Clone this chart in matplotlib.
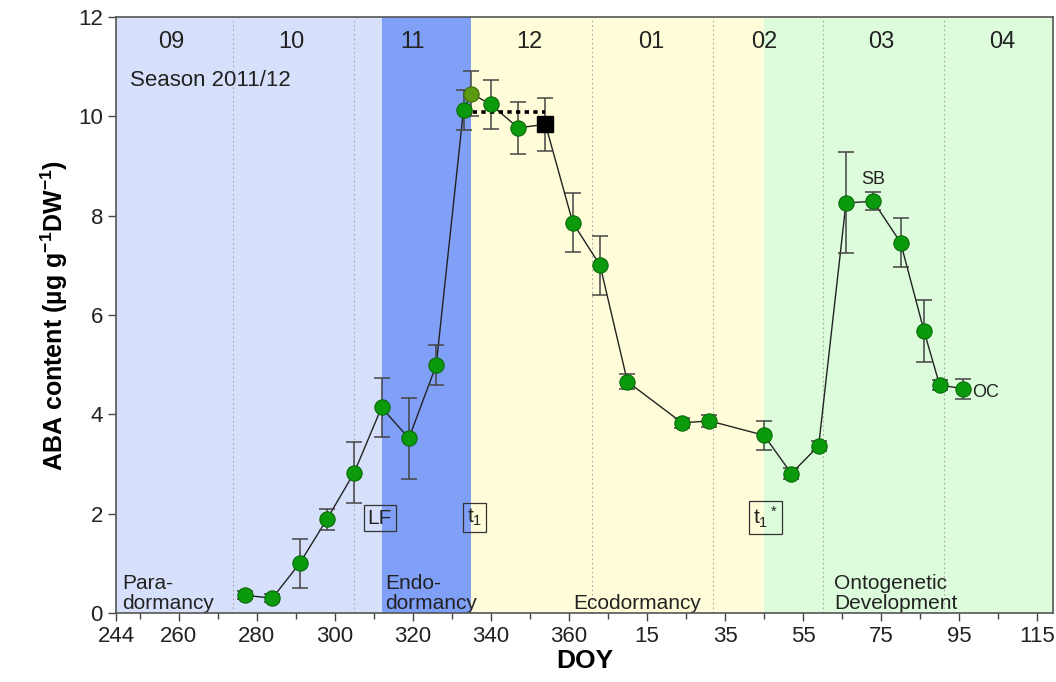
import matplotlib
matplotlib.use("Agg")
import matplotlib.pyplot as plt
from matplotlib.ticker import FixedLocator, MultipleLocator

plt.rcParams['font.family'] = ['Liberation Sans', 'DejaVu Sans']
plt.rcParams['mathtext.default'] = 'regular'

# ABA content of buds, season 2011/12 (DOY continues past 365 into the next year)
doy = [277, 284, 291, 298, 305, 312, 319, 326, 333, 335, 340, 347, 354,
       361, 368, 375, 389, 396, 410, 417, 424, 431, 438, 445, 451, 455, 461]
aba = [0.36, 0.30, 1.00, 1.89, 2.83, 4.14, 3.52, 4.99, 10.13, 10.46, 10.24, 9.77, 9.84,
       7.86, 7.00, 4.66, 3.83, 3.87, 3.58, 2.81, 3.37, 8.26, 8.29, 7.46, 5.68, 4.59, 4.52]
sd = [0.08, 0.08, 0.50, 0.21, 0.62, 0.60, 0.82, 0.40, 0.40, 0.45, 0.50, 0.52, 0.54,
      0.60, 0.60, 0.15, 0.10, 0.12, 0.29, 0.12, 0.10, 1.02, 0.18, 0.50, 0.62, 0.10, 0.20]
square_idx = 12          # sample drawn as black square
olive_idx = 9            # sample drawn in olive green
t1_level = 10.08         # dotted plateau between t1 and the square
t1_span = (333, 354)

# dormancy phases (start, end, colour, label)
phases = [
    (244, 312, '#d7e0fb', 'Para-\ndormancy'),
    (312, 335, '#809ff7', 'Endo-\ndormancy'),
    (335, 410, '#fffdd9', 'Ecodormancy'),
    (410, 484, '#dcfcdc', 'Ontogenetic\nDevelopment'),
]
phase_label_x = [245.5, 313, 377.5, 428]
phase_label_ha = ['left', 'left', 'center', 'left']

month_starts = [274, 305, 366, 397, 425, 456]
month_names = ['09', '10', '11', '12', '01', '02', '03', '04']
month_mid = [258, 289, 320, 350, 381, 410, 440, 471]

xticks = [244, 260, 280, 300, 320, 340, 360, 380, 400, 420, 440, 460, 480]
xticklabels = ['244', '260', '280', '300', '320', '340', '360',
               '15', '35', '55', '75', '95', '115']

boxes = [(311.5, 1.91, 'LF'), (335.8, 1.93, 't$_1$'), (410.3, 1.93, 't$_1$$^*$')]

fig = plt.figure(figsize=(10.56, 6.82), dpi=100, facecolor='white')
ax = fig.add_axes([0.110, 0.101, 0.887, 0.874])

for x0, x1, c, _ in phases:
    ax.axvspan(x0, x1, color=c, lw=0, zorder=0)
for (x0, x1, c, lab), lx, ha in zip(phases, phase_label_x, phase_label_ha):
    ax.text(lx, 0.0, lab, ha=ha, va='bottom', fontsize=15, color='#222222',
            linespacing=1.05, zorder=2)

for m in month_starts:
    ax.axvline(m, color='#a8a8a8', lw=0.8, ls=(0, (1.5, 2.5)), zorder=1)
for name, xm in zip(month_names, month_mid):
    ax.text(xm, 11.5, name, ha='center', va='center', fontsize=17, color='#222222')

ax.text(247.5, 10.72, 'Season 2011/12', ha='left', va='center', fontsize=16, color='#222222')

# connecting line and error bars
ax.plot(doy, aba, color='#222222', lw=1.0, zorder=3)
ax.errorbar(doy, aba, yerr=sd, fmt='none', ecolor='#444444', elinewidth=1.1,
            capsize=5.5, capthick=1.1, zorder=4)
ax.plot([t1_span[0], t1_span[1]], [t1_level, t1_level], color='black', lw=2.6,
        ls=(0, (1.2, 1.2)), zorder=5)

circ_x = [d for i, d in enumerate(doy) if i not in (square_idx, olive_idx)]
circ_y = [a for i, a in enumerate(aba) if i not in (square_idx, olive_idx)]
ax.plot(circ_x, circ_y, 'o', ms=11, mfc='#0b9a0b', mec='#0a6a0a', mew=0.8, zorder=6)
ax.plot(doy[olive_idx], aba[olive_idx], 'o', ms=11, mfc='#5a9a12', mec='#3d6a0a',
        mew=0.8, zorder=6)
ax.plot(doy[square_idx], aba[square_idx], 's', ms=11, mfc='black', mec='black', zorder=6)

ax.text(438, 8.72, 'SB', ha='center', va='center', fontsize=13, color='#222222', zorder=7)
ax.text(463.3, 4.44, 'OC', ha='left', va='center', fontsize=13, color='#222222', zorder=7)

for bx, by, lab in boxes:
    ax.text(bx, by, lab, ha='center', va='center', fontsize=15, color='#222222', zorder=7,
            bbox=dict(boxstyle='square,pad=0.18', fc='none', ec='#333333', lw=0.9))

ax.set_xlim(244, 484)
ax.set_ylim(0, 12)
ax.xaxis.set_major_locator(FixedLocator(xticks))
ax.set_xticklabels(xticklabels)
ax.xaxis.set_minor_locator(FixedLocator(list(range(250, 484, 10))))
ax.yaxis.set_major_locator(MultipleLocator(2))
ax.tick_params(axis='both', which='major', labelsize=16, length=6, width=1.0,
               color='#444444', labelcolor='#222222')
ax.tick_params(axis='x', which='minor', length=4, width=1.0, color='#444444')
for s in ax.spines.values():
    s.set_color('#555555')
    s.set_linewidth(1.2)

ax.set_xlabel('DOY', fontsize=19, fontweight='bold', labelpad=1)
ax.set_ylabel('ABA content (µg g$^{-1}$DW$^{-1}$)', fontsize=18, fontweight='bold', labelpad=6)

fig.savefig('out.png', dpi=100, facecolor='white')
